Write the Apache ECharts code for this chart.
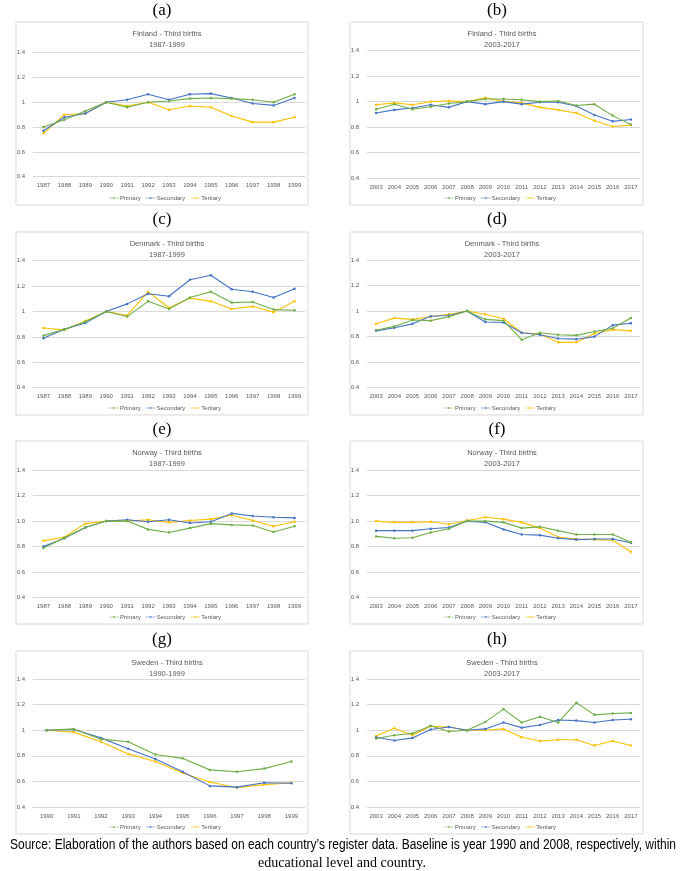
<!DOCTYPE html>
<html><head><meta charset="utf-8">
<script src="https://cdn.jsdelivr.net/npm/echarts@6/dist/echarts.min.js"></script>
<style>html,body{margin:0;padding:0;background:#fff}#c{width:685px;height:871px}</style>
</head><body><div id="c"></div>
<script>
// ---------- data ----------
const seriesNames = ['Primary', 'Secondary', 'Tertiary'];
const yearsA = ['1987','1988','1989','1990','1991','1992','1993','1994','1995','1996','1997','1998','1999'];
const yearsB = ['2003','2004','2005','2006','2007','2008','2009','2010','2011','2012','2013','2014','2015','2016','2017'];
const yearsG = ['1990','1991','1992','1993','1994','1995','1996','1997','1998','1999'];

// (a) Finland 1987-1999
const finA_primary   = [0.80,0.86,0.93,1.00,0.96,1.00,1.01,1.03,1.035,1.03,1.02,1.00,1.065];
const finA_secondary = [0.77,0.88,0.91,1.00,1.02,1.065,1.02,1.065,1.07,1.035,0.99,0.975,1.035];
const finA_tertiary  = [0.75,0.90,0.91,1.00,0.97,1.00,0.94,0.97,0.96,0.89,0.84,0.84,0.88];
// (b) Finland 2003-2017
const finB_primary   = [0.94,0.98,0.94,0.96,0.985,1.00,1.02,1.02,1.015,1.00,1.005,0.97,0.98,0.89,0.82];
const finB_secondary = [0.91,0.935,0.95,0.975,0.955,1.00,0.98,1.00,0.98,0.995,0.995,0.965,0.895,0.845,0.86];
const finB_tertiary  = [0.975,0.99,0.975,1.00,1.005,1.00,1.03,1.00,0.99,0.955,0.935,0.91,0.85,0.805,0.815];
// (c) Denmark 1987-1999
const denA_primary   = [0.81,0.86,0.92,1.00,0.96,1.08,1.02,1.11,1.155,1.07,1.075,1.015,1.01];
const denA_secondary = [0.79,0.86,0.91,1.00,1.06,1.14,1.12,1.25,1.285,1.175,1.155,1.11,1.18];
const denA_tertiary  = [0.87,0.855,0.925,1.00,0.97,1.155,1.03,1.105,1.08,1.02,1.04,0.995,1.08];
// (d) Denmark 2003-2017
const denB_primary   = [0.85,0.88,0.93,0.925,0.955,1.00,0.935,0.925,0.775,0.83,0.815,0.81,0.84,0.865,0.945];
const denB_secondary = [0.845,0.87,0.90,0.96,0.965,1.00,0.915,0.91,0.83,0.815,0.785,0.78,0.80,0.89,0.905];
const denB_tertiary  = [0.90,0.945,0.935,0.955,0.975,1.00,0.975,0.94,0.83,0.82,0.755,0.755,0.825,0.855,0.845];
// (e) Norway 1987-1999
const norA_primary   = [0.79,0.87,0.95,1.00,1.00,0.935,0.91,0.945,0.98,0.97,0.965,0.915,0.96];
const norA_secondary = [0.80,0.865,0.95,1.00,1.01,0.995,1.01,0.985,0.995,1.06,1.04,1.03,1.025];
const norA_tertiary  = [0.845,0.875,0.98,1.00,1.00,1.01,0.99,1.005,1.015,1.045,1.005,0.96,0.995];
// (f) Norway 2003-2017
const norB_primary   = [0.88,0.865,0.87,0.91,0.94,1.00,1.00,0.99,0.945,0.955,0.925,0.895,0.895,0.895,0.835];
const norB_secondary = [0.925,0.925,0.925,0.94,0.95,1.00,0.99,0.935,0.895,0.89,0.865,0.855,0.86,0.86,0.83];
const norB_tertiary  = [1.00,0.99,0.99,0.995,0.975,1.005,1.03,1.015,0.99,0.945,0.875,0.86,0.855,0.85,0.76];
// (g) Sweden 1990-1999
const sweA_primary   = [1.00,1.01,0.93,0.91,0.81,0.78,0.69,0.675,0.70,0.755];
const sweA_secondary = [1.00,1.005,0.94,0.855,0.775,0.675,0.565,0.555,0.59,0.585];
const sweA_tertiary  = [1.00,0.985,0.91,0.815,0.755,0.665,0.595,0.55,0.575,0.59];
// (h) Sweden 2003-2017
const sweB_primary   = [0.935,0.96,0.975,1.035,0.99,1.00,1.065,1.165,1.06,1.105,1.06,1.215,1.12,1.13,1.135];
const sweB_secondary = [0.945,0.92,0.94,1.005,1.025,1.00,1.01,1.06,1.02,1.04,1.08,1.075,1.06,1.08,1.085];
const sweB_tertiary  = [0.955,1.015,0.96,1.03,1.025,1.00,1.00,1.01,0.945,0.915,0.925,0.925,0.88,0.915,0.88];

const panelLabels = ['(a)','(b)','(c)','(d)','(e)','(f)','(g)','(h)'];
const panelTitles = ['Finland - Third births\n1987-1999','Finland - Third births\n2003-2017',
  'Denmark - Third births\n1987-1999','Denmark - Third births\n2003-2017',
  'Norway - Third births\n1987-1999','Norway - Third births\n2003-2017',
  'Sweden - Third births\n1990-1999','Sweden - Third births\n2003-2017'];
const sourceLine1 = 'Source: Elaboration of the authors based on each country\u2019s register data. Baseline is year 1990 and 2008, respectively, within';
const sourceLine2 = 'educational level and country.';

// ---------- assembly ----------
const panelCats = [yearsA, yearsB, yearsA, yearsB, yearsA, yearsB, yearsG, yearsB];
const panelData = [
  [finA_primary, finA_secondary, finA_tertiary], [finB_primary, finB_secondary, finB_tertiary],
  [denA_primary, denA_secondary, denA_tertiary], [denB_primary, denB_secondary, denB_tertiary],
  [norA_primary, norA_secondary, norA_tertiary], [norB_primary, norB_secondary, norB_tertiary],
  [sweA_primary, sweA_secondary, sweA_tertiary], [sweB_primary, sweB_secondary, sweB_tertiary]];
const oneDecimal = [false,false,false,false,true,true,false,false];
const colors = ['#70AD47', '#4472C4', '#FFC000'];

// layout (pixels)
const boxTop = [22, 22, 232, 232, 441, 441, 651, 651];
const gridTop = [52.7, 50.7, 260.7, 260, 470, 470, 679, 679];
const gridBot = [176.7, 178, 387.7, 387.7, 597.7, 597.7, 807, 807];
const colBox = [[16, 308], [350, 643]];
const colGrid = [[33, 305], [367, 640]];
const colCenter = [162, 497];
const labelY = [11, 11, 220, 220, 430, 430, 640, 640];

const FONT = 'Liberation Sans';
const LEG_ICON = 'path://M0,4.5L8.5,4.5L8.5,3.5L11.5,3.5L11.5,4.5L20,4.5L20,5.5L11.5,5.5L11.5,6.5L8.5,6.5L8.5,5.5L0,5.5Z';
const grid = [], xAxis = [], yAxis = [], series = [], title = [], legend = [], graphic = [];
for (let i = 0; i < 8; i++) {
  const c = i % 2;
  grid.push({left: colGrid[c][0], width: colGrid[c][1] - colGrid[c][0], top: gridTop[i], height: gridBot[i] - gridTop[i]});
  xAxis.push({type: 'category', gridIndex: i, data: panelCats[i], boundaryGap: true,
    axisLine: {lineStyle: {color: '#d9d9d9'}}, axisTick: {show: false},
    axisLabel: {color: '#595959', fontSize: 6, fontFamily: FONT, margin: 6, interval: 0}});
  const od = oneDecimal[i];
  yAxis.push({type: 'value', gridIndex: i, min: 0.4, max: 1.4, interval: 0.2,
    axisLine: {show: false}, axisTick: {show: false},
    splitLine: {lineStyle: {color: '#d9d9d9', width: 1}},
    axisLabel: {color: '#595959', fontSize: 6, fontFamily: FONT, margin: 8,
      formatter: v => od ? v.toFixed(1) : String(Math.round(v * 10) / 10)}});
  for (let s = 0; s < 3; s++) {
    series.push({type: 'line', name: seriesNames[s], xAxisIndex: i, yAxisIndex: i,
      data: panelData[i][s], color: colors[s], symbol: 'circle', symbolSize: 2.5,
      lineStyle: {width: 1.1}, itemStyle: {color: colors[s]}, animation: false, z: 3 - s + 2});
  }
  title.push({text: panelTitles[i], left: colCenter[c], top: boxTop[i] + 2, textAlign: 'center',
    textStyle: {fontSize: 7.5, fontWeight: 'normal', color: '#595959', fontFamily: FONT, lineHeight: 10.5}});
  legend.push({data: seriesNames, left: colCenter[c] - 53, top: boxTop[i] + 173,
    icon: LEG_ICON, itemWidth: 10, itemHeight: 5, itemGap: 5, padding: 0,
    textStyle: {fontSize: 6, color: '#595959', fontFamily: FONT, padding: [0, 0, 0, -4]}});
  graphic.push({type: 'rect', shape: {x: colBox[c][0], y: boxTop[i], width: colBox[c][1] - colBox[c][0], height: 183},
    style: {fill: 'none', stroke: '#d9d9d9', lineWidth: 1}, z: -1, silent: true});
  graphic.push({type: 'text', x: colCenter[c], y: labelY[i], style: {text: panelLabels[i], font: '17px "Liberation Serif"', fill: '#000', textAlign: 'center', textVerticalAlign: 'middle'}});
}
// fit the source line to its width in the reference
const measure = document.createElement('canvas').getContext('2d');
const srcFont = '14px "Liberation Sans"';
measure.font = srcFont;
const srcW = measure.measureText(sourceLine1).width;
graphic.push({type: 'text', x: 343, y: 845, scaleX: 666 / srcW, originX: 0, originY: 0,
  style: {text: sourceLine1, font: srcFont, fill: '#000', textAlign: 'center', textVerticalAlign: 'middle'}});
graphic.push({type: 'text', x: 342, y: 863, style: {text: sourceLine2, font: '14px "Liberation Serif"', fill: '#000', textAlign: 'center', textVerticalAlign: 'middle'}});

const chart = echarts.init(document.getElementById('c'), null, {renderer: 'canvas'});
chart.setOption({animation: false, backgroundColor: '#fff', grid, xAxis, yAxis, series, title, legend, graphic});
</script></body></html>
